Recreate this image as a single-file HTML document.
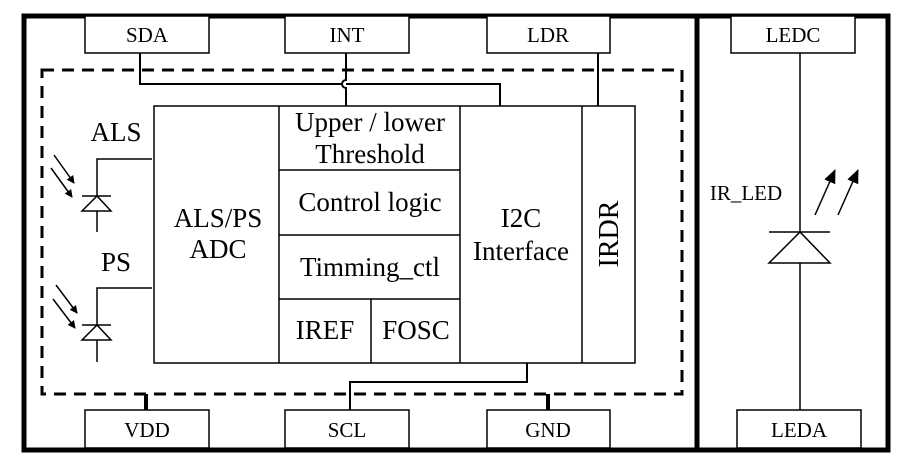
<!DOCTYPE html>
<html><head><style>body{margin:0;background:#fff}svg{display:block}text{font-family:"Liberation Serif",serif;fill:#000}</style></head><body>
<svg width="906" height="463" viewBox="0 0 906 463" xmlns="http://www.w3.org/2000/svg">
<defs><marker id="ah" markerWidth="8" markerHeight="8" refX="7" refY="4" orient="auto" markerUnits="userSpaceOnUse"><path d="M0,0 L8,4 L0,8 Z" fill="#000"/></marker>
<marker id="ah2" markerWidth="14" markerHeight="12" refX="13" refY="6" orient="auto" markerUnits="userSpaceOnUse"><path d="M0,0 L14,6 L0,12 Z" fill="#000"/></marker></defs>
<g fill="none" stroke="#000">
<rect x="24" y="16" width="864" height="434" stroke-width="5"/>
<line x1="697" y1="16" x2="697" y2="450" stroke-width="5"/>
<rect x="42" y="70" width="640" height="324" stroke-width="3" stroke-dasharray="12,8"/>
<g stroke-width="1.5" fill="#fff">
<rect x="85" y="16" width="124" height="37"/><rect x="285" y="16" width="124" height="37"/>
<rect x="487" y="16" width="123" height="37"/><rect x="731" y="16" width="124" height="37"/>
<rect x="85" y="410" width="124" height="38"/><rect x="285" y="410" width="124" height="38"/>
<rect x="487" y="410" width="123" height="38"/><rect x="737" y="410" width="124" height="38"/>
<rect x="154" y="106" width="481" height="257"/>
</g>
<g stroke-width="1.5">
<line x1="279" y1="106" x2="279" y2="363"/><line x1="460" y1="106" x2="460" y2="363"/><line x1="582" y1="106" x2="582" y2="363"/>
<line x1="279" y1="170" x2="460" y2="170"/><line x1="279" y1="235" x2="460" y2="235"/><line x1="279" y1="299" x2="460" y2="299"/>
<line x1="371" y1="299" x2="371" y2="363"/>
</g>
<g stroke-width="2">
<polyline points="140,53 140,84 500,84 500,106"/>
<path d="M346,53 L346,80 A4,4 0 0 0 346,88 L346,106" fill="#fff"/>
<line x1="598" y1="53" x2="598" y2="106"/>
<polyline points="350,410 350,382 527,382 527,363"/>
</g>
<line x1="146" y1="394" x2="146" y2="410" stroke-width="4"/>
<line x1="548" y1="394" x2="548" y2="410" stroke-width="4"/>
<g stroke-width="1.5">
<polyline points="152,159 97,159 97,196"/><line x1="82" y1="196" x2="111" y2="196"/><polygon points="97,196 82,211 111,211"/><line x1="97" y1="211" x2="97" y2="232"/>
<polyline points="152,288 97,288 97,325"/><line x1="82" y1="325" x2="111" y2="325"/><polygon points="97,325 82,340 111,340"/><line x1="97" y1="340" x2="97" y2="362"/>
<line x1="800" y1="53" x2="800" y2="232"/><line x1="769" y1="232" x2="830" y2="232"/><polygon points="800,232 769,263 830,263"/><line x1="800" y1="263" x2="800" y2="410"/>
</g>
<g stroke-width="1.5" marker-end="url(#ah)">
<line x1="54" y1="155" x2="74" y2="183"/><line x1="51" y1="168" x2="72" y2="197"/>
<line x1="56" y1="285" x2="77" y2="313"/><line x1="53" y1="299" x2="75" y2="328"/>
</g>
<g stroke-width="1.5" marker-end="url(#ah2)">
<line x1="815" y1="215" x2="835" y2="170"/><line x1="838" y1="215" x2="858" y2="170"/>
</g>
</g>
<g font-size="21" text-anchor="middle">
<text x="147" y="42">SDA</text><text x="347" y="42">INT</text><text x="548" y="42">LDR</text><text x="793" y="42">LEDC</text>
<text x="147" y="437">VDD</text><text x="347" y="437">SCL</text><text x="548" y="437">GND</text><text x="799" y="437">LEDA</text>
<text x="746" y="200">IR_LED</text>
</g>
<g font-size="27" text-anchor="middle">
<text x="116" y="141">ALS</text><text x="116" y="271">PS</text>
<text x="218" y="227">ALS/PS</text><text x="218" y="258">ADC</text>
<text x="370" y="131">Upper / lower</text><text x="370" y="163">Threshold</text>
<text x="370" y="211">Control logic</text><text x="370" y="276">Timming_ctl</text>
<text x="325" y="339">IREF</text><text x="416" y="339">FOSC</text>
<text x="521" y="227">I2C</text><text x="521" y="260">Interface</text>
<text transform="translate(618,234) rotate(-90)" font-size="28">IRDR</text>
</g>
</svg>
</body></html>
